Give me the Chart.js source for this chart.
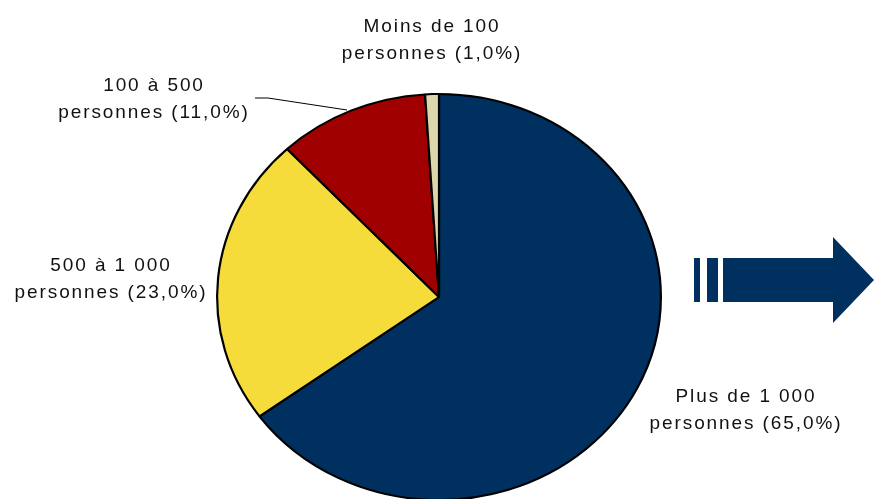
<!DOCTYPE html>
<html>
<head>
<meta charset="utf-8">
<script src="https://cdn.jsdelivr.net/npm/chart.js@4/dist/chart.umd.min.js"></script>
<style>
  html, body { margin: 0; padding: 0; background: #fff; overflow: hidden; }
  #wrap { position: absolute; left: 0; top: 0; width: 874px; height: 600px; }
</style>
</head>
<body>
<div id="wrap"><canvas id="pie"></canvas></div>
<script>
// Répartition par taille d'entreprise
const categories = ["Plus de 1 000 personnes", "500 à 1 000 personnes", "100 à 500 personnes", "Moins de 100 personnes"];
const shares = [65.0, 23.0, 11.0, 1.0];
const colors = ["#00305F", "#F6DC3A", "#A10000", "#DDD5AB"];
const labelLines = [
  ["Plus de 1 000", "personnes (65,0%)"],
  ["500 à 1 000", "personnes (23,0%)"],
  ["100 à 500", "personnes (11,0%)"],
  ["Moins de 100", "personnes (1,0%)"]
];
// where each label block sits (centre x, first baseline y)
const labelPos = [[746, 402], [111, 271], [154, 91], [432, 32]];

// the original pie is a little wider than tall
const stretchX = 223 / 204;

const squash = {
  id: "squash",
  beforeDatasetsDraw(chart) {
    const a = chart.chartArea;
    const cx = (a.left + a.right) / 2;
    const ctx = chart.ctx;
    ctx.save();
    ctx.translate(cx, 0);
    ctx.scale(stretchX, 1);
    ctx.translate(-cx, 0);
  },
  afterDatasetsDraw(chart) {
    chart.ctx.restore();
  }
};

const overlay = {
  id: "overlay",
  afterDraw(chart) {
    const ctx = chart.ctx;
    ctx.save();
    ctx.fillStyle = "#111";
    ctx.font = "19px 'Liberation Sans', Arial, sans-serif";
    ctx.letterSpacing = "1.9px";
    ctx.textAlign = "center";
    labelLines.forEach((lines, i) => {
      const [x, y] = labelPos[i];
      lines.forEach((t, j) => ctx.fillText(t, x, y + j * 27));
    });
    // leader line for 100 à 500
    ctx.strokeStyle = "#000";
    ctx.lineWidth = 1;
    ctx.beginPath();
    ctx.moveTo(255, 98);
    ctx.lineTo(268, 98);
    ctx.lineTo(347, 110);
    ctx.stroke();
    // arrow on the right
    ctx.fillStyle = "#00305F";
    ctx.fillRect(694, 258, 6, 44);
    ctx.fillRect(707, 258, 11, 44);
    ctx.beginPath();
    ctx.moveTo(723, 258);
    ctx.lineTo(833, 258);
    ctx.lineTo(833, 237);
    ctx.lineTo(874, 280);
    ctx.lineTo(833, 323);
    ctx.lineTo(833, 302);
    ctx.lineTo(723, 302);
    ctx.closePath();
    ctx.fill();
    ctx.restore();
  }
};

new Chart(document.getElementById("pie"), {
  type: "pie",
  data: {
    labels: categories,
    datasets: [{
      data: shares,
      backgroundColor: colors,
      borderColor: "#000",
      borderWidth: 2
    }]
  },
  options: {
    responsive: true,
    maintainAspectRatio: false,
    animation: false,
    layout: { padding: { top: 93, bottom: 99, left: 235, right: 231 } },
    plugins: { legend: { display: false }, tooltip: { enabled: false } }
  },
  plugins: [squash, overlay]
});
</script>
</body>
</html>
